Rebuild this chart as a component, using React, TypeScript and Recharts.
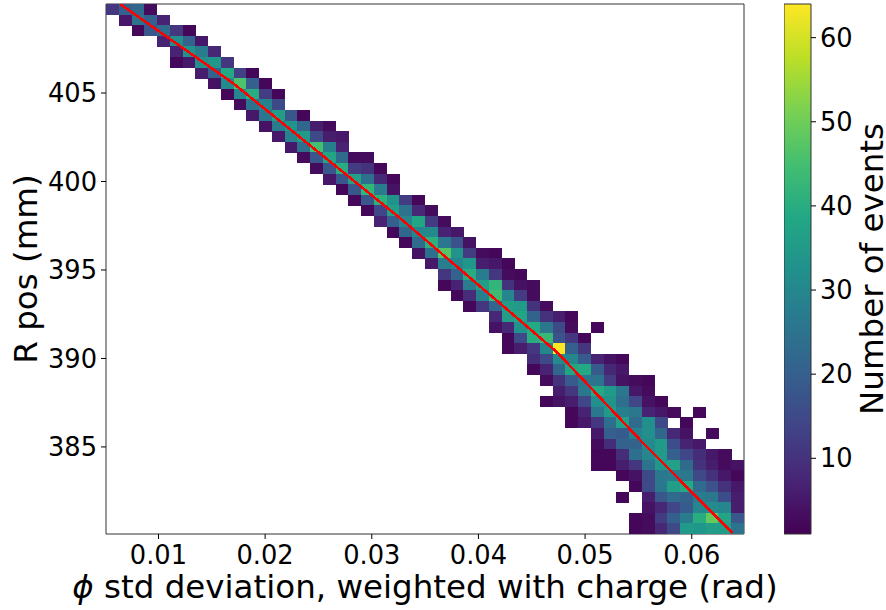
import React from "react";
import {
  ScatterChart,
  Scatter,
  XAxis,
  YAxis,
  ReferenceArea,
  Label,
} from "recharts";

const xRange = [0.00508, 0.0649];
const yRange = [380.08, 410.03];
const binCount = 50;

const xTicks = [0.01, 0.02, 0.03, 0.04, 0.05, 0.06];
const yTicks = [385, 390, 395, 400, 405];
const barTicks = [10, 20, 30, 40, 50, 60];
const countRange = [1, 64];

const viridis = ["#440154", "#482475", "#414487", "#355f8d", "#2a788e", "#21918c", "#22a884", "#44bf70", "#7ad151", "#bddf26", "#fde725"];

// first filled column of each row, top row first
const rowStarts = [
  0, 1, 2, 4, 5, 5, 7, 8, 9, 10,
  11, 12, 13, 14, 15, 16, 17, 18, 19, 20,
  21, 22, 23, 24, 25, 26, 26, 27, 28, 30,
  30, 31, 31, 33, 33, 34, 35, 34, 36, 36,
  38, 38, 38, 38, 40, 41, 40, 42, 41, 41,
];

// counts per row, 0 is an empty bin
const rowCounts = [
  [11, 20, 22, 3],
  [5, 25, 20, 7],
  [2, 18, 23, 11, 2],
  [7, 32, 21, 5],
  [7, 33, 27, 8],
  [2, 5, 32, 34, 11],
  [6, 21, 39, 13, 2],
  [4, 31, 46, 20, 2],
  [2, 30, 40, 12, 2],
  [3, 25, 29, 15],
  [5, 26, 36, 18, 2],
  [4, 27, 33, 22, 6, 3],
  [5, 29, 35, 15, 6, 5],
  [5, 24, 45, 28, 7],
  [3, 18, 38, 23, 3, 3],
  [3, 18, 40, 12, 10, 2],
  [5, 18, 37, 24, 8, 2],
  [2, 18, 42, 27, 4],
  [2, 18, 41, 33, 12, 2],
  [2, 14, 36, 25, 8, 3],
  [7, 20, 30, 38, 12, 3],
  [2, 22, 30, 31, 7, 5],
  [2, 23, 41, 26, 17, 4],
  [4, 24, 47, 33, 12, 3, 2],
  [5, 28, 30, 34, 6, 5, 2],
  [11, 21, 40, 27, 11, 3, 2],
  [2, 7, 27, 36, 42, 10, 4, 3],
  [2, 9, 28, 44, 30, 12, 3],
  [2, 11, 22, 36, 35, 10, 3],
  [8, 36, 38, 21, 10, 6, 2],
  [4, 8, 33, 39, 26, 15, 3, 0, 2],
  [2, 15, 40, 43, 17, 11, 2],
  [2, 6, 11, 30, 64, 20, 11],
  [9, 15, 31, 30, 19, 7, 4, 2],
  [2, 7, 22, 38, 39, 19, 8, 5],
  [3, 10, 19, 26, 25, 12, 4, 3, 2],
  [6, 11, 26, 39, 35, 26, 5, 3],
  [2, 4, 6, 14, 32, 33, 24, 14, 4, 2],
  [2, 7, 26, 35, 28, 26, 7, 5, 3, 0, 2],
  [2, 5, 11, 24, 37, 23, 32, 15, 0, 2],
  [5, 20, 19, 29, 32, 22, 8, 4, 0, 3],
  [3, 9, 21, 21, 31, 35, 16, 7, 5],
  [2, 2, 9, 24, 30, 35, 20, 14, 9, 5, 3],
  [2, 2, 6, 11, 25, 34, 37, 23, 10, 6, 3, 4],
  [2, 4, 15, 26, 27, 26, 15, 10, 5, 2],
  [2, 15, 26, 36, 39, 23, 17, 10, 5],
  [2, 0, 6, 18, 23, 21, 27, 26, 16, 6],
  [4, 8, 14, 19, 30, 31, 30, 6],
  [2, 3, 12, 20, 27, 40, 49, 38, 18],
  [2, 3, 8, 15, 35, 34, 36, 36, 25],
];

const fitX = [0.0064, 0.01698, 0.03263, 0.04275, 0.04744, 0.05578, 0.06384];
const fitY = [410.03, 405.56, 397.94, 392.74, 390.31, 385.0, 380.14];

const fontFamily = "'DejaVu Sans', sans-serif";
const plot = { left: 106, top: 4, width: 638, height: 530 };
const frameColor = "#333333";

function viridisColor(count: number) {
  const t = (count - countRange[0]) / (countRange[1] - countRange[0]);
  const pos = Math.min(Math.max(t, 0), 1) * (viridis.length - 1);
  const i = Math.min(Math.floor(pos), viridis.length - 2);
  const f = pos - i;
  const rgb = [1, 3, 5].map((k) => {
    const a = parseInt(viridis[i].slice(k, k + 2), 16);
    const b = parseInt(viridis[i + 1].slice(k, k + 2), 16);
    return Math.round(a + (b - a) * f);
  });
  return `rgb(${rgb.join(",")})`;
}

const xBin = (xRange[1] - xRange[0]) / binCount;
const yBin = (yRange[1] - yRange[0]) / binCount;

const cells = rowCounts.flatMap((row, r) =>
  row
    .map((count, c) => ({
      x: xRange[0] + (rowStarts[r] + c + 0.5) * xBin,
      y: yRange[1] - (r + 0.5) * yBin,
      count,
    }))
    .filter((cell) => cell.count > 0)
);

const fitLine = fitX.map((x, i) => ({ x, y: fitY[i] }));
const barAnchors = [
  { x: 0, y: countRange[0] },
  { x: 1, y: countRange[1] },
];

function BinCell({ cx, cy, payload }: any) {
  const w = plot.width / binCount;
  const h = plot.height / binCount;
  return (
    <rect
      x={cx - w / 2}
      y={cy - h / 2}
      width={w + 0.3}
      height={h + 0.3}
      fill={viridisColor(payload.count)}
      shapeRendering="crispEdges"
    />
  );
}

function XTitle({ viewBox }: any) {
  const x = viewBox.x + viewBox.width / 2;
  return (
    <text x={x} y={598} textAnchor="middle" fontSize={32.5} fontFamily={fontFamily} fill="#000">
      <tspan fontStyle="italic">ϕ</tspan> std deviation, weighted with charge (rad)
    </text>
  );
}

function SideTitle({ viewBox, baseX, text }: any) {
  const y = viewBox.y + viewBox.height / 2;
  return (
    <text
      x={baseX}
      y={y}
      textAnchor="middle"
      fontSize={32.5}
      fontFamily={fontFamily}
      fill="#000"
      transform={`rotate(-90 ${baseX} ${y})`}
    >
      {text}
    </text>
  );
}

const tickStyle = { fontSize: 25.7, fontFamily, fill: "#000" };
const tickLine = { stroke: "#000", strokeWidth: 1 };

export default function App() {
  return (
    <div style={{ position: "absolute", left: 0, top: 0, width: 886, height: 610, background: "#fff" }}>
      <div style={{ position: "absolute", left: 0, top: 0 }}>
        <ScatterChart width={784} height={610} margin={{ top: plot.top, right: 40, bottom: 0, left: 0 }}>
          <XAxis
            type="number"
            dataKey="x"
            domain={xRange}
            ticks={xTicks}
            allowDataOverflow
            height={76}
            interval={0}
            tick={tickStyle}
            tickSize={5}
            tickMargin={7}
            tickLine={tickLine}
            axisLine={false}
            tickFormatter={(v: number) => v.toFixed(2)}
          >
            <Label content={<XTitle />} />
          </XAxis>
          <YAxis
            type="number"
            dataKey="y"
            domain={yRange}
            ticks={yTicks}
            allowDataOverflow
            width={plot.left}
            interval={0}
            tick={tickStyle}
            tickSize={5}
            tickMargin={4}
            tickLine={tickLine}
            axisLine={false}
          >
            <Label content={<SideTitle baseX={37} text="R pos (mm)" />} />
          </YAxis>
          <Scatter data={cells} shape={<BinCell />} isAnimationActive={false} />
          <Scatter
            data={fitLine}
            line={{ stroke: "#ff0000", strokeWidth: 2.5, shapeRendering: "crispEdges" }}
            shape={() => <g />}
            isAnimationActive={false}
          />
          <ReferenceArea
            x1={xRange[0]}
            x2={xRange[1]}
            y1={yRange[0]}
            y2={yRange[1]}
            fill="none"
            stroke={frameColor}
            strokeWidth={1}
          />
        </ScatterChart>
      </div>
      <div style={{ position: "absolute", left: 784, top: 0 }}>
        <ScatterChart width={102} height={610} margin={{ top: plot.top, right: 0, bottom: 76, left: 0 }}>
          <defs>
            <linearGradient id="viridisBar" x1="0" y1="1" x2="0" y2="0">
              {viridis.map((color, i) => (
                <stop key={color} offset={i / (viridis.length - 1)} stopColor={color} />
              ))}
            </linearGradient>
          </defs>
          <XAxis type="number" dataKey="x" domain={[0, 1]} hide />
          <YAxis
            type="number"
            dataKey="y"
            orientation="right"
            domain={countRange}
            ticks={barTicks}
            width={75}
            interval={0}
            tick={tickStyle}
            tickSize={5}
            tickMargin={4}
            tickLine={tickLine}
            axisLine={false}
          >
            <Label content={<SideTitle baseX={99} text="Number of events" />} />
          </YAxis>
          <Scatter data={barAnchors} shape={() => <g />} isAnimationActive={false} />
          <ReferenceArea
            x1={0}
            x2={1}
            y1={countRange[0]}
            y2={countRange[1]}
            fill="url(#viridisBar)"
            fillOpacity={1}
            stroke={frameColor}
            strokeWidth={1}
          />
        </ScatterChart>
      </div>
    </div>
  );
}
